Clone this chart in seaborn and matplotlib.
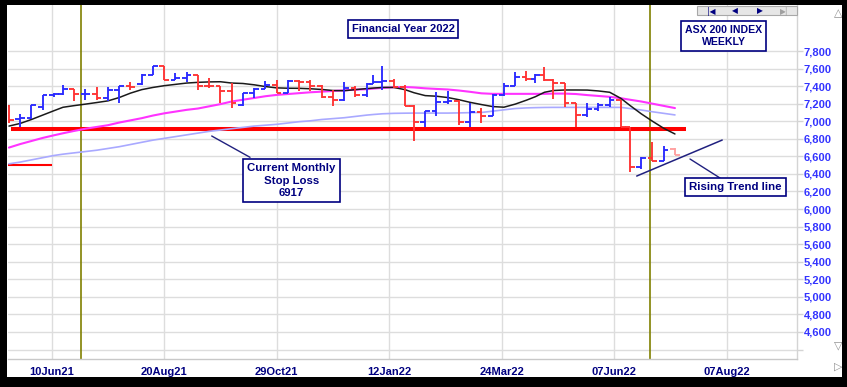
import numpy as np
import pandas as pd
import matplotlib
matplotlib.use("Agg")
import matplotlib.pyplot as plt
from matplotlib.patches import Rectangle
from matplotlib.lines import Line2D
import seaborn as sns

# ---------------- data ----------------
week_end = ["2021-05-14", "2021-05-21", "2021-05-28", "2021-06-04", "2021-06-11", "2021-06-18",
            "2021-06-25", "2021-07-02", "2021-07-09", "2021-07-16", "2021-07-23", "2021-07-30",
            "2021-08-06", "2021-08-13", "2021-08-20", "2021-08-27", "2021-09-03", "2021-09-10",
            "2021-09-17", "2021-09-24", "2021-10-01", "2021-10-08", "2021-10-15", "2021-10-22",
            "2021-10-29", "2021-11-05", "2021-11-12", "2021-11-19", "2021-11-26", "2021-12-03",
            "2021-12-10", "2021-12-17", "2021-12-24", "2021-12-31", "2022-01-07", "2022-01-14",
            "2022-01-21", "2022-01-28", "2022-02-04", "2022-02-11", "2022-02-18", "2022-02-25",
            "2022-03-04", "2022-03-11", "2022-03-18", "2022-03-25", "2022-04-01", "2022-04-08",
            "2022-04-14", "2022-04-22", "2022-04-29", "2022-05-06", "2022-05-13", "2022-05-20",
            "2022-05-27", "2022-06-03", "2022-06-10", "2022-06-17", "2022-06-24", "2022-07-01",
            "2022-07-08", "2022-07-15"]

open_ = [7170, 7025, 7035, 7160, 7295, 7305, 7365, 7310, 7315, 7270, 7356, 7400,
         7421, 7530, 7628, 7470, 7490, 7522, 7406, 7400, 7342, 7185, 7320, 7363,
         7415, 7324, 7457, 7443, 7397, 7280, 7242, 7379, 7304, 7420, 7444, 7453,
         7393, 7174, 6988, 7121, 7217, 7225, 6995, 7111, 7064, 7295, 7406, 7499,
         7478, 7523, 7473, 7435, 7205, 7075, 7145, 7182, 7238, 6932, 6475, 6578,
         6547, 6680]
high = [7180, 7080, 7185, 7300, 7320, 7413, 7368, 7365, 7386, 7386, 7402, 7443,
        7540, 7633, 7633, 7546, 7557, 7530, 7489, 7400, 7432, 7318, 7375, 7458,
        7475, 7470, 7470, 7470, 7410, 7356, 7450, 7406, 7432, 7527, 7630, 7480,
        7410, 7180, 7120, 7337, 7348, 7240, 7205, 7150, 7310, 7432, 7557, 7573,
        7535, 7622, 7482, 7440, 7205, 7205, 7210, 7280, 7242, 6935, 6590, 6760,
        6722, 6690]
low = [6980, 6930, 7030, 7128, 7275, 7300, 7225, 7242, 7240, 7225, 7212, 7356,
       7415, 7525, 7470, 7465, 7443, 7356, 7376, 7205, 7155, 7178, 7261, 7363,
       7318, 7318, 7345, 7345, 7270, 7178, 7225, 7280, 7280, 7420, 7356, 7380,
       7170, 6770, 6940, 7060, 7195, 6960, 6940, 6975, 7060, 7290, 7400, 7460,
       7440, 7460, 7253, 7165, 6939, 7053, 7117, 7165, 6930, 6420, 6460, 6545,
       6545, 6610]
close = [7010, 7035, 7180, 7295, 7305, 7365, 7310, 7315, 7270, 7356, 7400, 7395,
         7530, 7628, 7470, 7490, 7522, 7406, 7400, 7342, 7206, 7320, 7363, 7415,
         7324, 7457, 7443, 7397, 7280, 7242, 7379, 7304, 7420, 7444, 7453, 7393,
         7174, 6988, 7121, 7217, 7225, 6995, 7111, 7064, 7295, 7406, 7499, 7478,
         7523, 7473, 7435, 7205, 7075, 7145, 7182, 7238, 6932, 6475, 6578, 6547,
         6677, 6620]

ma_fast = [6945, 6975, 7020, 7070, 7120, 7159, 7178, 7195, 7213, 7232, 7270, 7320,
           7360, 7385, 7405, 7420, 7435, 7443, 7448, 7450, 7435, 7430, 7415, 7395,
           7380, 7376, 7375, 7370, 7362, 7350, 7348, 7360, 7372, 7378, 7385, 7385,
           7360, 7325, 7292, 7285, 7270, 7245, 7215, 7190, 7167, 7160, 7195, 7240,
           7280, 7330, 7350, 7356, 7356, 7355, 7345, 7330, 7260, 7180, 7085, 7000,
           6920, 6855]
ma_mid = [6700, 6740, 6775, 6810, 6840, 6863, 6890, 6915, 6935, 6955, 6985, 7010,
          7035, 7065, 7090, 7110, 7130, 7145, 7170, 7195, 7225, 7245, 7265, 7285,
          7300, 7310, 7320, 7330, 7337, 7345, 7352, 7360, 7365, 7372, 7380, 7387,
          7390, 7385, 7375, 7368, 7362, 7350, 7335, 7318, 7312, 7312, 7312, 7312,
          7312, 7312, 7315, 7315, 7310, 7298, 7288, 7278, 7262, 7245, 7225, 7200,
          7175, 7150]
ma_slow = [6515, 6535, 6560, 6585, 6610, 6625, 6640, 6655, 6670, 6690, 6710, 6735,
           6760, 6785, 6805, 6825, 6845, 6865, 6885, 6900, 6915, 6930, 6945, 6955,
           6965, 6980, 6995, 7005, 7020, 7030, 7040, 7055, 7070, 7077, 7085, 7090,
           7092, 7093, 7093, 7093, 7093, 7095, 7098, 7100, 7115, 7130, 7145, 7152,
           7155, 7157, 7158, 7158, 7158, 7158, 7158, 7158, 7158, 7145, 7128, 7108,
           7090, 7072]

asx_holidays = ["2021-06-14", "2021-12-27", "2021-12-28", "2022-01-03", "2022-01-26",
                "2022-04-15", "2022-04-18", "2022-04-25", "2022-06-13"]
axis_origin = "2021-06-10"
x_labels = ["10Jun21", "20Aug21", "29Oct21", "12Jan22", "24Mar22", "07Jun22", "07Aug22"]
fy_bounds = ["2021-06-30", "2022-06-30"]
stop_loss = 6917
stop_span = ["2021-05-17", "2022-07-22"]
old_stop = 6500
old_stop_end = ["2021-06-10"]
trend_dates = ["2022-06-22", "2022-08-15"]
trend_vals = [6376, 6786]

# ---------------- figure ----------------
sns.set_theme(style="white")
plt.rcParams['font.family'] = ['Liberation Sans', 'DejaVu Sans']

W, H = 847, 387
fig = plt.figure(figsize=(W / 100, H / 100), dpi=100)
fig.patch.set_facecolor('white')


def fx(x):
    return x / W


def fy(y):
    return 1 - y / H


ax = fig.add_axes([fx(8), fy(359), (797 - 8) / W, (359 - 5) / H])
ax.set_facecolor('white')

hol = np.array(asx_holidays, dtype='datetime64[D]')


def tpos(dates):
    return np.busday_count(np.datetime64(axis_origin),
                           np.array(dates, dtype='datetime64[D]'),
                           holidays=hol).astype(float)


xpos = tpos(week_end)
x_left, x_right = -19.42, 331.24
ax.set_xlim(x_left, x_right)
ax.set_ylim(4292.4, 8323.9)

# financial-year markers
for xv in tpos(fy_bounds):
    ax.axvline(xv, color='#808000', lw=1.2, zorder=1.5)

# stop-loss lines
s0, s1 = tpos(stop_span)
ax.hlines(stop_loss, s0, s1, color='#ff0000', lw=2.9, zorder=2)
ax.hlines(old_stop, x_left, tpos(old_stop_end)[0], color='#ff0000', lw=1.5, zorder=2)

# moving averages
df = pd.DataFrame({'pos': xpos, 'fast': ma_fast, 'mid': ma_mid, 'slow': ma_slow})
sns.lineplot(data=df, x='pos', y='slow', ax=ax, color='#a9a9ff', lw=1.2, zorder=3)
sns.lineplot(data=df, x='pos', y='mid', ax=ax, color='#ff33ff', lw=1.5, zorder=3)
sns.lineplot(data=df, x='pos', y='fast', ax=ax, color='#1a1a1a', lw=1.1, zorder=3.2)

# OHLC bars
o, h, l, c = map(np.array, (open_, high, low, close))
cols = np.where(c >= o, '#2a2aff', '#ff3333').astype(object)
cols[-1] = '#ffa0a0'
tick = 2.1
ax.vlines(xpos, l, h, colors=list(cols), lw=1.35, zorder=4)
ax.hlines(o, xpos - tick, xpos, colors=list(cols), lw=1.35, zorder=4)
ax.hlines(c, xpos, xpos + tick, colors=list(cols), lw=1.35, zorder=4)

# rising trend line
ax.plot(tpos(trend_dates), trend_vals, color='#20207f', lw=1.1, zorder=4)

# axes styling
ax.set_xlabel('')
ax.set_ylabel('')
ax.set_xticks(np.arange(0, 301, 50))
ax.set_xticklabels(x_labels, fontsize=8, fontweight='bold', color='#000080')
yt = np.arange(4400, 7801, 200)
ax.set_yticks(yt)
ax.set_yticklabels([f"{v:,}" if v >= 4600 else "" for v in yt],
                   fontsize=8, fontweight='bold', color='#3333ff')
ax.yaxis.tick_right()
ax.grid(True, color='#dddddd', lw=1, zorder=0)
ax.set_axisbelow(True)
ax.tick_params(axis='x', length=0, pad=5.5)
ax.tick_params(axis='y', length=4, color='#d4d4d4', width=1, pad=0.8)
for s in ('top', 'left'):
    ax.spines[s].set_visible(False)
ax.spines['right'].set_color('#d4d4d4')
ax.spines['bottom'].set_color('#c8c8c8')
ax.spines['right'].set_linewidth(1)
ax.spines['bottom'].set_linewidth(1)

# annotation boxes
navy = '#000080'


def box(cx, cy, txt, fs=8):
    fig.text(fx(cx), fy(cy), txt, ha='center', va='center', fontsize=fs,
             fontweight='bold', color=navy, linespacing=1.3, zorder=20,
             bbox=dict(boxstyle='square,pad=0.35', fc='white', ec=navy, lw=1.2))


def seg(x0, y0, x1, y1):
    fig.add_artist(Line2D([fx(x0), fx(x1)], [fy(y0), fy(y1)], color='#20207f',
                          lw=1.0, transform=fig.transFigure, zorder=19))


box(403, 29, "Financial Year 2022")
box(723.5, 36, "ASX 200 INDEX\nWEEKLY", fs=7.6)
box(291.5, 180.5, "Current Monthly\nStop Loss\n6917", fs=8.2)
box(735.5, 187, "Rising Trend line", fs=8.2)
seg(211.7, 136, 250, 157.3)
seg(690, 159, 720, 178)

# navigation bar
fig.add_artist(Rectangle((fx(697), fy(15)), 100 / W, 9 / H, transform=fig.transFigure,
                         fc='#e6e6e6', ec='#a8a8a8', lw=0.8, zorder=18))
for xx, t, cl in [(711, '|◀', navy), (735, '◀', navy), (760, '▶', navy), (784, '▶|', '#a0a0a0')]:
    fig.text(fx(xx), fy(11), t, ha='center', va='center', fontsize=5.5, color=cl,
             family='DejaVu Sans', zorder=19)

# scroll arrows
for yy, t in [(13, '△'), (345, '▽'), (367, '▷')]:
    fig.text(fx(838), fy(yy), t, ha='center', va='center', fontsize=8, color='#909090',
             family='DejaVu Sans', zorder=19)

# window frame
for (x0, y0, x1, y1) in [(0, 0, 7, 387), (0, 0, 847, 5), (842, 0, 847, 387), (0, 377, 847, 387)]:
    fig.add_artist(Rectangle((fx(x0), fy(y1)), (x1 - x0) / W, (y1 - y0) / H,
                             transform=fig.transFigure, fc='black', ec='none', zorder=30))

fig.savefig('out.png', dpi=100, facecolor='white')
